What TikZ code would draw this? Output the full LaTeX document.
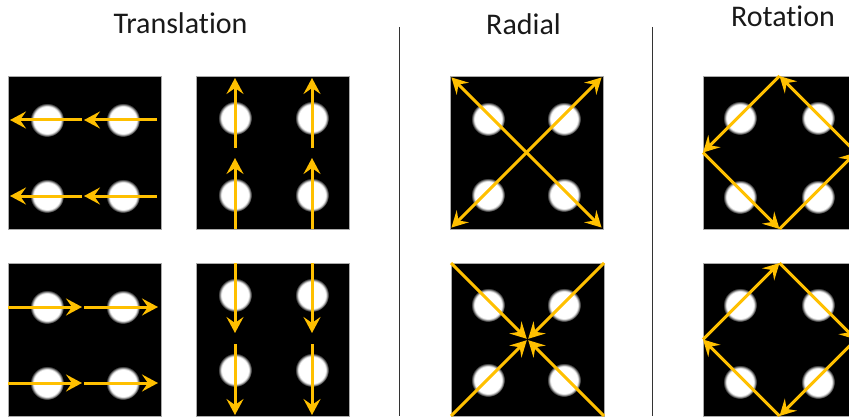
\documentclass[tikz,border=0pt]{standalone}
\usepackage{fontspec}
\setmainfont[Ligatures=NoCommon]{Carlito}
\usepackage{xcolor}
\usetikzlibrary{arrows.meta, calc}
\definecolor{arrowgold}{RGB}{255, 192, 0}
\definecolor{framegrey}{RGB}{170, 170, 170}
\definecolor{titleblack}{RGB}{25, 25, 25}
\pgfdeclareradialshading{blobshade}{\pgfpoint{0bp}{0bp}}{color(0bp)=(white); color(20bp)=(white); color(25bp)=(black); color(50bp)=(black)}

\begin{document}
\begin{tikzpicture}[
    x=1pt, y=-1pt,
    panel/.style={rectangle, fill=black, draw=framegrey, line width=0.8pt, minimum size=153pt, inner sep=0pt, outer sep=0pt},
    title/.style={font=\fontsize{30}{36}\selectfont, anchor=base, text=titleblack},
    divider/.style={draw=black!80, line width=1pt},
    flow/.style={draw=arrowgold, line width=3pt, -{Stealth[length=16pt, width=17pt, inset=6pt]}},
    twoway/.style={draw=arrowgold, line width=3pt, {Stealth[length=16pt, width=17pt, inset=6pt]}-{Stealth[length=16pt, width=17pt, inset=6pt]}}
]
\clip (0,0) rectangle (849,417);

% Titles
\node[title] (ttrans) at (180.5,34) {Translat\kern0pt ion};
\node[title] (trad) at (523.5,35) {Radial};
\node[title] (trot) at (783,27) {Rotat\kern0pt ion};

% Dividers
\coordinate (divAtop) at (399,27);
\coordinate (divAbot) at (399,416);
\coordinate (divBtop) at (652,27);
\coordinate (divBbot) at (652,416);
\draw[divider] (divAtop) -- (divAbot);
\draw[divider] (divBtop) -- (divBbot);

% Panels
\node[panel] (leftA) at (84.5,152.5) {};
\node[panel] (upA) at (273,152.5) {};
\node[panel] (radA) at (526.5,152.5) {};
\node[panel] (rotA) at (779.5,152.5) {};
\node[panel] (rightB) at (84.5,339.5) {};
\node[panel] (downB) at (273,339.5) {};
\node[panel] (radB) at (527.5,339.5) {};
\node[panel] (rotB) at (779.5,339.5) {};

% Blobs
\foreach \x/\y in {47/120, 123/120, 47/196, 123/196,
                   235/118, 312/118, 235/195, 312/195,
                   488/119, 564/119, 488/195, 564/195,
                   740/118, 818/118, 740/197, 818/197,
                   47/307, 123/307, 47/383, 123/383,
                   235/295, 312/295, 235/370, 312/370,
                   488/305, 564/305, 488/380, 564/380,
                   740/305, 818/305, 740/382, 818/382}
  \shade[shading=blobshade] (\x,\y) circle[radius=17pt];

% Translation, left and up
\foreach \y in {120,196} {
  \draw[flow] (157,\y) -- (84,\y);
  \draw[flow] (82,\y) -- (10,\y);
}
\foreach \x in {235,312} {
  \draw[flow] (\x,229) -- (\x,158);
  \draw[flow] (\x,148) -- (\x,78);
}

% Translation, right and down
\foreach \y in {307,383} {
  \draw[flow] (8,\y) -- (82,\y);
  \draw[flow] (84,\y) -- (158,\y);
}
\foreach \x in {235,312} {
  \draw[flow] (\x,263) -- (\x,333);
  \draw[flow] (\x,344) -- (\x,415);
}

% Radial, outward and inward
\draw[twoway, shorten <=2pt, shorten >=2pt] (radA.north west) -- (radA.south east);
\draw[twoway, shorten <=2pt, shorten >=2pt] (radA.north east) -- (radA.south west);
\foreach \c in {north west, north east, south west, south east}
  \draw[flow, shorten >=1pt] (radB.\c) -- (radB.center);

% Rotation, counterclockwise and clockwise
\draw[flow] (rotA.east) -- (rotA.north);
\draw[flow] (rotA.north) -- (rotA.west);
\draw[flow] (rotA.west) -- (rotA.south);
\draw[flow] (rotA.south) -- (rotA.east);
\draw[flow] (rotB.west) -- (rotB.north);
\draw[flow] (rotB.north) -- (rotB.east);
\draw[flow] (rotB.east) -- (rotB.south);
\draw[flow] (rotB.south) -- (rotB.west);

\end{tikzpicture}
\end{document}
